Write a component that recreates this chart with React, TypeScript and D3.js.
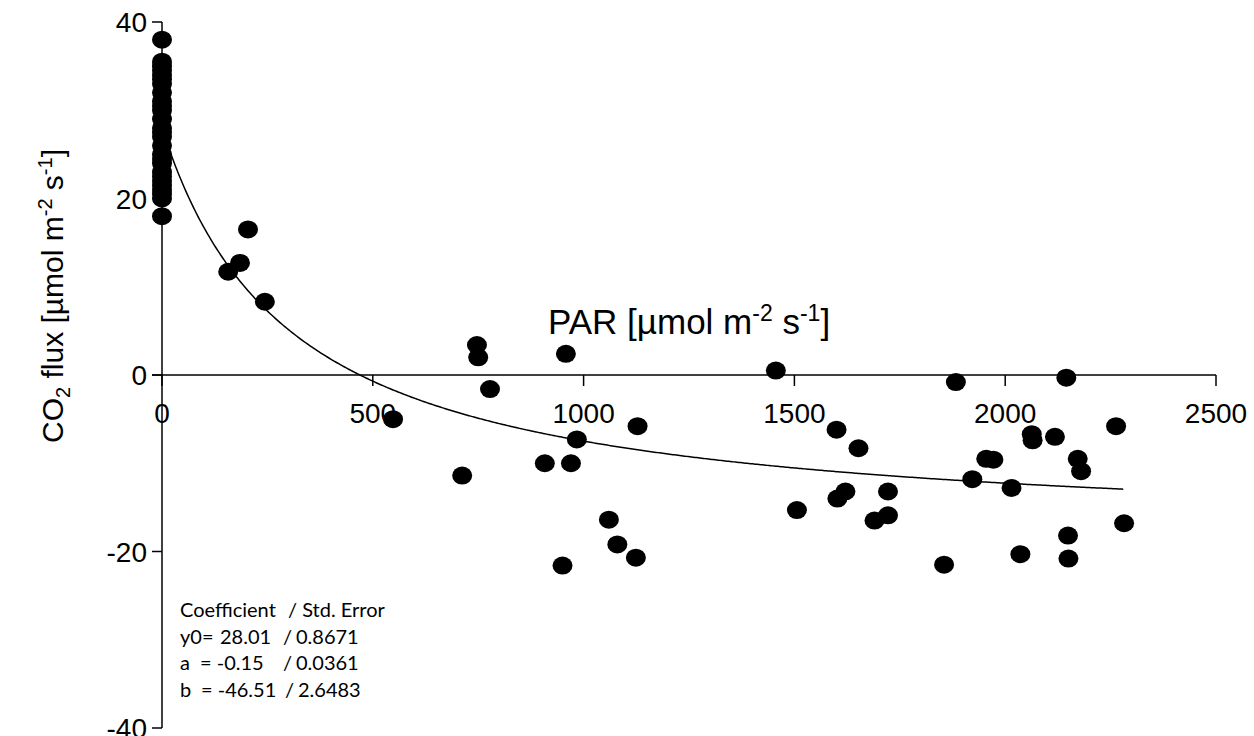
import React from 'react';
import * as d3 from 'd3';

// PAR (µmol m-2 s-1) and CO2 flux readings
const darkFlux = [38, 35.5, 35, 34.5, 34, 33.5, 33, 32, 31, 30.5, 30, 29, 28, 27.5, 27, 26, 25, 24.5, 24, 23, 22.5, 22, 21.5, 21, 20.5, 20, 18];
const parValues = [157, 185, 204, 244, 548, 712, 747, 750, 778, 908, 950, 958, 970, 984, 1060, 1080, 1124, 1128, 1456, 1506, 1600, 1602, 1621, 1652, 1690, 1722, 1722, 1855, 1883, 1922, 1955, 1972, 2015, 2036, 2063, 2065, 2118, 2145, 2149, 2150, 2172, 2180, 2263, 2282];
const fluxValues = [11.7, 12.7, 16.5, 8.3, -5.0, -11.4, 3.4, 2.0, -1.6, -10.0, -21.6, 2.4, -10.0, -7.3, -16.4, -19.2, -20.7, -5.8, 0.5, -15.3, -6.2, -14.0, -13.2, -8.3, -16.5, -15.9, -13.2, -21.5, -0.8, -11.8, -9.5, -9.6, -12.8, -20.3, -6.7, -7.4, -7.0, -0.3, -18.2, -20.8, -9.5, -10.9, -5.8, -16.8];

// fitted hyperbola y = y0 + a*b*x / (a*x + b)
const fitY0 = 28.01;
const fitA = -0.15;
const fitB = -46.51;
const fitMaxPar = 2282;

const xTicks = [0, 500, 1000, 1500, 2000, 2500];
const yTicks = [-40, -20, 0, 20, 40];

// coefficient box: label, value, "/", std. error
const coefNames = ['y0=', 'a', 'b'];
const coefValues = ['28.01', '= -0.15', '= -46.51'];
const coefErrors = ['0.8671', '0.0361', '2.6483'];

const W = 1254;
const H = 736;

export default function App() {
  const x = d3.scaleLinear().domain([0, 2500]).range([162, 1216]);
  const y = d3.scaleLinear().domain([-40, 40]).range([728, 22]);

  const points = [
    ...darkFlux.map((f) => [0, f]),
    ...parValues.map((p, i) => [p, fluxValues[i]]),
  ];

  const fitPts = d3.range(0, fitMaxPar + 1, 4).map((p) => [p, fitY0 + (fitA * fitB * p) / (fitA * p + fitB)]);
  const line = d3.line<number[]>().x((d) => x(d[0])).y((d) => y(d[1]));

  const axisFont = "'Liberation Sans', Arial, sans-serif";
  const noteFont = "Lato, 'Open Sans', sans-serif";
  const rowY = (i: number) => 617 + i * 26.7;
  const valueX = [220, 200, 201];
  const slashX = [283, 283, 285];

  return (
    <svg width={W} height={H} style={{ position: 'absolute', left: 0, top: 0, background: '#fff' }}>
      {/* y axis */}
      <line x1={x(0)} x2={x(0)} y1={y(40)} y2={y(-40)} stroke="#000" strokeWidth={1.5} />
      {yTicks.map((t) => (
        <g key={'y' + t}>
          <line x1={x(0) - 10} x2={x(0)} y1={y(t)} y2={y(t)} stroke="#000" strokeWidth={1.5} />
          <text x={147} y={y(t)} dy="0.36em" textAnchor="end" fontFamily={axisFont} fontSize={28}>
            {t}
          </text>
        </g>
      ))}

      {/* x axis */}
      <line x1={x(0) - 10} x2={x(2500)} y1={y(0)} y2={y(0)} stroke="#000" strokeWidth={1.5} />
      {xTicks.map((t) => (
        <g key={'x' + t}>
          <line x1={x(t)} x2={x(t)} y1={y(0)} y2={y(0) + 11} stroke="#000" strokeWidth={1.5} />
          <text x={x(t)} y={y(0) + 48} textAnchor="middle" fontFamily={axisFont} fontSize={28}>
            {t}
          </text>
        </g>
      ))}

      {/* fit curve */}
      <path d={line(fitPts) || ''} fill="none" stroke="#000" strokeWidth={1.5} />

      {/* data */}
      {points.map((d, i) => (
        <ellipse key={i} cx={x(d[0])} cy={y(d[1])} rx={10} ry={9} fill="#000" />
      ))}

      {/* axis titles */}
      <text x={548} y={334} fontFamily={axisFont} fontSize={35}>
        PAR [µmol m<tspan dy={-13} fontSize={23}>-2</tspan>
        <tspan dy={13}> s</tspan>
        <tspan dy={-13} fontSize={23}>-1</tspan>
        <tspan dy={13}>]</tspan>
      </text>
      <text transform={`translate(63,${296}) rotate(-90)`} textAnchor="middle" fontFamily={axisFont} fontSize={30}>
        CO<tspan dy={7} fontSize={20}>2</tspan>
        <tspan dy={-7}> flux [µmol m</tspan>
        <tspan dy={-11} fontSize={20}>-2</tspan>
        <tspan dy={11}> s</tspan>
        <tspan dy={-11} fontSize={20}>-1</tspan>
        <tspan dy={11}>]</tspan>
      </text>

      {/* coefficients */}
      <g fontFamily={noteFont} fontSize={20}>
        <text x={180} y={rowY(0)}>Coefficient</text>
        <text x={288} y={rowY(0)}>/ Std. Error</text>
        {coefNames.map((n, i) => (
          <g key={n}>
            <text x={180} y={rowY(i + 1)}>{n}</text>
            <text x={valueX[i]} y={rowY(i + 1)}>{coefValues[i]}</text>
            <text x={slashX[i]} y={rowY(i + 1)}>/</text>
            <text x={slashX[i] + 13} y={rowY(i + 1)}>{coefErrors[i]}</text>
          </g>
        ))}
      </g>
    </svg>
  );
}
